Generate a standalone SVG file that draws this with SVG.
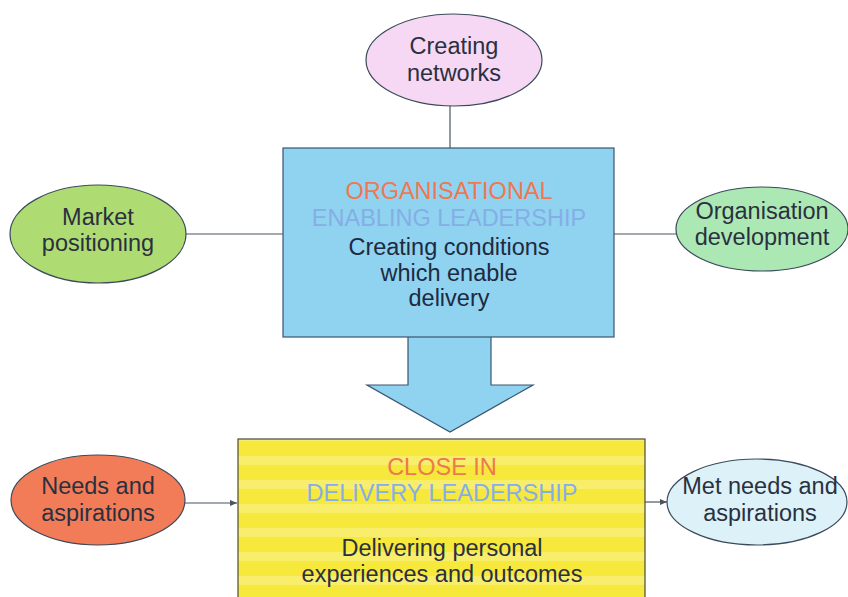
<svg xmlns="http://www.w3.org/2000/svg" width="848" height="597" viewBox="0 0 848 597">
<defs>
<style>
text{font-family:"Liberation Sans",Arial,sans-serif;text-anchor:middle}
.t{font-size:23.5px;fill:#2a3040}
.o{font-size:23.5px;fill:#ee7850}
.b{font-size:23.5px;fill:#86aee6}
.e{stroke:#3a4a5a;stroke-width:1.2}
.c{stroke:#4a5560;stroke-width:1.2;fill:none}
</style>
<pattern id="stripes" width="10" height="24" patternUnits="userSpaceOnUse">
<rect width="10" height="24" fill="#f7e83c"/>
<rect y="0" width="10" height="9" fill="#f9ee6c"/>
</pattern>
<marker id="ah" markerWidth="8" markerHeight="8" refX="7" refY="4" orient="auto" markerUnits="userSpaceOnUse">
<path d="M0,1 L7,4 L0,7 z" fill="#4a5560"/>
</marker>
</defs>
<rect width="848" height="597" fill="#ffffff"/>
<g id="connectors">
<line class="c" x1="450" y1="105" x2="450" y2="148"/>
<line class="c" x1="186" y1="234" x2="283" y2="234"/>
<line class="c" x1="614" y1="234" x2="676" y2="234"/>
<line class="c" x1="185" y1="503" x2="237" y2="503" marker-end="url(#ah)"/>
<line class="c" x1="645" y1="502" x2="667" y2="502" marker-end="url(#ah)"/>
</g>
<g id="arrow">
<path d="M408,336 L408,385 L367,385 L450,432 L533,385 L491,385 L491,336" fill="#8fd3f0" stroke="#3a5570" stroke-width="1.2"/>
</g>
<g id="organisational">
<rect x="283" y="148" width="331" height="189" fill="#8fd3f0" stroke="#3a5570" stroke-width="1.2"/>
<text class="o" x="449" y="199">ORGANISATIONAL</text>
<text class="b" x="449" y="226">ENABLING LEADERSHIP</text>
<text class="t" x="449" y="255" style="fill:#1e2a40">Creating conditions</text>
<text class="t" x="449" y="281" style="fill:#1e2a40">which enable</text>
<text class="t" x="449" y="306" style="fill:#1e2a40">delivery</text>
</g>
<g id="close-in">
<rect x="238" y="439" width="407" height="170" fill="url(#stripes)" stroke="#4a4a40" stroke-width="1.2"/>
<text class="o" x="442" y="475">CLOSE IN</text>
<text class="b" x="442" y="501">DELIVERY LEADERSHIP</text>
<text class="t" x="442" y="556">Delivering personal</text>
<text class="t" x="442" y="582">experiences and outcomes</text>
</g>
<g id="creating-networks">
<ellipse class="e" cx="454" cy="60" rx="88" ry="46" fill="#f6d8f4"/>
<text class="t" x="454" y="54">Creating</text>
<text class="t" x="454" y="81">networks</text>
</g>
<g id="market-positioning">
<ellipse class="e" cx="98" cy="234" rx="88" ry="49" fill="#aedc72"/>
<text class="t" x="98" y="225">Market</text>
<text class="t" x="98" y="251">positioning</text>
</g>
<g id="organisation-development">
<ellipse class="e" cx="762" cy="229" rx="86" ry="42" fill="#ace8b4"/>
<text class="t" x="762" y="219">Organisation</text>
<text class="t" x="762" y="245">development</text>
</g>
<g id="needs">
<ellipse class="e" cx="98" cy="500" rx="87" ry="45" fill="#f27c58"/>
<text class="t" x="98" y="494">Needs and</text>
<text class="t" x="98" y="521">aspirations</text>
</g>
<g id="met-needs">
<ellipse class="e" cx="757" cy="502" rx="90" ry="43" fill="#dcf1f8"/>
<text class="t" x="760" y="494">Met needs and</text>
<text class="t" x="760" y="521">aspirations</text>
</g>
</svg>
